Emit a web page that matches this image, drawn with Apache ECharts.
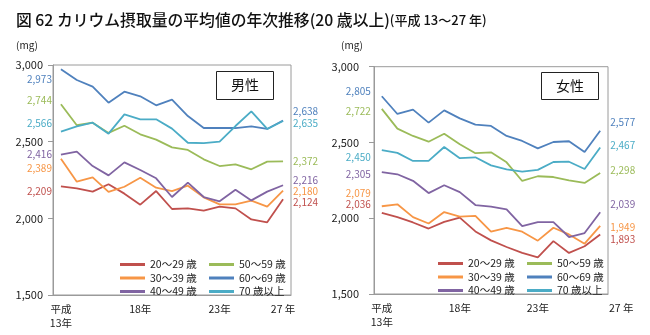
<!DOCTYPE html>
<html><head><meta charset="utf-8">
<script src="https://cdn.jsdelivr.net/npm/echarts@6/dist/echarts.min.js"></script>
<style>html,body{margin:0;padding:0;background:#fff}#c{width:650px;height:335px}</style>
</head><body><div id="c"></div>
<script>
const years = ['平成\n13年','14年','15年','16年','17年','18年','19年','20年','21年','22年','23年','24年','25年','26年','27 年'];
const shownTicks = [0,5,10,14];
const groups = ['20～29 歳','30～39 歳','40～49 歳','50～59 歳','60～69 歳','70 歳以上'];
const colors = ['#C0504D','#F79646','#8064A2','#9BBB59','#4F81BD','#4BACC6'];

// 男性
const male20 = [2209,2196,2174,2222,2161,2089,2178,2061,2065,2050,2076,2065,1993,1974,2124];
const male30 = [2389,2239,2267,2172,2206,2265,2200,2178,2213,2137,2091,2091,2115,2076,2180];
const male40 = [2416,2435,2341,2280,2365,2315,2261,2139,2233,2139,2111,2187,2117,2174,2216];
const male50 = [2744,2607,2624,2557,2604,2548,2513,2463,2446,2385,2341,2352,2320,2370,2372];
const male60 = [2973,2902,2859,2754,2826,2796,2737,2774,2667,2589,2589,2589,2600,2583,2638];
const male70 = [2566,2600,2624,2552,2678,2646,2646,2585,2493,2491,2500,2602,2698,2583,2635];

// 女性
const female20 = [2036,2007,1972,1932,1976,2004,1913,1854,1810,1771,1742,1849,1771,1815,1893];
const female30 = [2079,2092,2007,1965,2041,2011,2015,1911,1937,1911,1852,1937,1893,1832,1949];
const female40 = [2305,2290,2247,2166,2218,2172,2087,2076,2059,1948,1974,1974,1876,1902,2039];
const female50 = [2722,2591,2543,2505,2558,2488,2429,2435,2369,2246,2277,2272,2250,2233,2298];
const female60 = [2805,2688,2717,2631,2712,2659,2618,2609,2543,2510,2461,2503,2508,2437,2577];
const female70 = [2450,2431,2378,2378,2470,2396,2402,2349,2323,2308,2319,2371,2373,2325,2467];

const yMin = 1500, yMax = 3000, yStep = 500;

const maleData = [male20,male30,male40,male50,male60,male70];
const femaleData = [female20,female30,female40,female50,female60,female70];

// label vertical nudges (px) to keep end labels apart
const maleStartDy = [5,10,0,-4,10,-8];
const maleEndDy = [3,0,-5,0,-9,2];
const femaleStartDy = [-8.5,-13.5,2,2,-5,7];
const femaleEndDy = [5,1,-8.5,-3,-9,-2];

const FONT = '"Noto Sans CJK JP", "Noto Sans", sans-serif';
const fmt = v => v.toLocaleString('en-US');

function buildSeries(arrs, gi, startDy, endDy, startDist, endDist) {
  return arrs.map((vals, k) => ({
    type: 'line',
    name: groups[k],
    xAxisIndex: gi, yAxisIndex: gi,
    symbol: 'circle', symbolSize: 0, showSymbol: true,
    lineStyle: { width: 1.8, color: colors[k] },
    itemStyle: { color: colors[k] },
    emphasis: { disabled: true },
    silent: true,
    data: vals.map((v, i) => {
      if (i === 0) return { value: v, label: { show: true, position: 'left', distance: startDist, offset: [0, startDy[k]] } };
      if (i === vals.length - 1) return { value: v, label: { show: true, position: 'right', distance: endDist, offset: [0, endDy[k]] } };
      return v;
    }),
    label: {
      show: false,
      color: colors[k],
      fontSize: 10,
      fontFamily: FONT,
      formatter: p => fmt(p.value)
    }
  }));
}

function xAxis(gi, shiftLast) {
  return {
    type: 'category', gridIndex: gi, data: years, boundaryGap: true,
    axisLine: { lineStyle: { color: '#9a9a9a', width: 1 } },
    axisTick: { show: false },
    axisLabel: {
      interval: (idx) => shownTicks.includes(idx),
      color: '#222', fontSize: 10.5, fontFamily: FONT, margin: 7, lineHeight: 14,
      formatter: (v, idx) => (shiftLast && idx === years.length - 1) ? '{s|' + v + '}' : v,
      rich: { s: { padding: [0, 0, 0, shiftLast], fontSize: 10.5, fontFamily: FONT, color: '#222' } }
    },
    splitLine: { show: false }
  };
}

function yAxis(gi, margin) {
  return {
    type: 'value', gridIndex: gi, min: yMin, max: yMax, interval: yStep,
    axisLine: { show: true, lineStyle: { color: '#9a9a9a', width: 1 } },
    axisTick: { show: true, length: 5, lineStyle: { color: '#9a9a9a' } },
    axisLabel: { color: '#222', fontSize: 11, fontFamily: FONT, margin: margin, formatter: v => fmt(v) },
    splitLine: { show: false }
  };
}

function legend(names, left, top) {
  return {
    orient: 'vertical', left: left, top: top, itemGap: 0.5,
    icon: 'rect', itemWidth: 25, itemHeight: 3,
    data: names,
    selectedMode: false,
    textStyle: { fontSize: 10.5, fontFamily: FONT, color: '#222', lineHeight: 13 }
  };
}

const option = {
  animation: false,
  backgroundColor: '#fff',
  title: [
    { text: '{a|図 62 カリウム摂取量の平均値の年次推移(20 歳以上)}{b|(平成 13～27 年)}', left: 16, top: 12, padding: 0,
      textStyle: { fontWeight: 'normal', rich: {
        a: { fontSize: 15.8, fontFamily: FONT, color: '#111', fontWeight: 500 },
        b: { fontSize: 13, fontFamily: FONT, color: '#111', fontWeight: 500 } } } },
    { text: '(mg)', left: 16, top: 40, padding: 0, textStyle: { fontSize: 10, fontFamily: FONT, color: '#222', fontWeight: 'normal' } },
    { text: '(mg)', left: 341, top: 40, padding: 0, textStyle: { fontSize: 10, fontFamily: FONT, color: '#222', fontWeight: 'normal' } },
    { text: '男性', left: 216, top: 71, padding: [7, 15, 8, 15], borderColor: '#222', borderWidth: 1,
      textStyle: { fontSize: 14, lineHeight: 14, fontFamily: FONT, color: '#111', fontWeight: 'normal' } },
    { text: '女性', left: 541, top: 72, padding: [7, 15, 7, 15], borderColor: '#222', borderWidth: 1,
      textStyle: { fontSize: 14, lineHeight: 14, fontFamily: FONT, color: '#111', fontWeight: 'normal' } }
  ],
  grid: [
    { left: 53, top: 65, width: 238, height: 230, show: true, borderColor: '#9a9a9a', borderWidth: 1, containLabel: false },
    { left: 374, top: 66.7, width: 234, height: 227.3, show: true, borderColor: '#9a9a9a', borderWidth: 1, containLabel: false }
  ],
  xAxis: [xAxis(0, 0), xAxis(1, 42)],
  yAxis: [yAxis(0, 10), yAxis(1, 15)],
  legend: [
    legend([groups[0], groups[1], groups[2]], 115, 253),
    legend([groups[3], groups[4], groups[5]], 204, 253),
    legend([groups[0], groups[1], groups[2]], 433, 252),
    legend([groups[3], groups[4], groups[5]], 522, 252)
  ],
  series: [
    ...buildSeries(maleData, 0, maleStartDy, maleEndDy, 9, 10),
    ...buildSeries(femaleData, 1, femaleStartDy, femaleEndDy, 11, 10)
  ]
};

const chart = echarts.init(document.getElementById('c'), null, { renderer: 'canvas' });
chart.setOption(option);
</script>
</body></html>
